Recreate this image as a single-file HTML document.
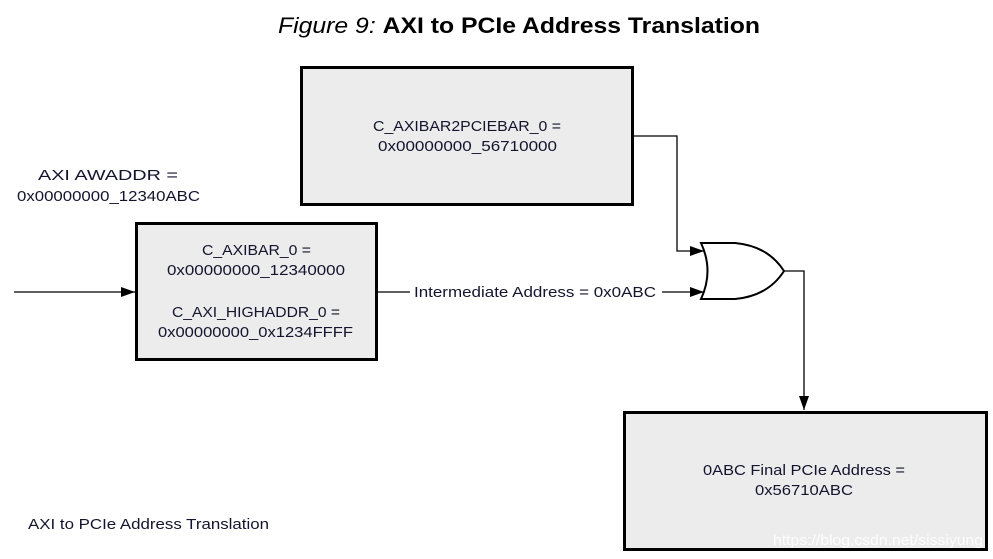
<!DOCTYPE html>
<html><head><meta charset="utf-8"><style>
html,body{margin:0;padding:0;background:#fff;width:993px;height:559px;overflow:hidden}
text{font-family:"Liberation Sans",sans-serif;fill:#14142e;font-size:15px}
</style></head><body>
<svg width="993" height="559" viewBox="0 0 993 559" xmlns="http://www.w3.org/2000/svg">
<defs><marker id="a" markerWidth="14" markerHeight="10" refX="14" refY="5" orient="auto" markerUnits="userSpaceOnUse"><path d="M0,0 L14,5 L0,10 Z" fill="#000"/></marker></defs>
<text x="278" y="33" textLength="482" lengthAdjust="spacingAndGlyphs" style="font-size:22px;fill:#000"><tspan font-style="italic">Figure 9:</tspan> <tspan font-weight="bold">AXI to PCIe Address Translation</tspan></text>
<rect x="301.5" y="67.5" width="331" height="137" fill="#ececec" stroke="#000" stroke-width="3"/>
<text x="373" y="131" textLength="188" lengthAdjust="spacingAndGlyphs">C_AXIBAR2PCIEBAR_0 =</text>
<text x="378" y="151" textLength="179" lengthAdjust="spacingAndGlyphs">0x00000000_56710000</text>
<text x="38" y="180" textLength="140" lengthAdjust="spacingAndGlyphs">AXI AWADDR =</text>
<text x="17" y="201" textLength="183" lengthAdjust="spacingAndGlyphs">0x00000000_12340ABC</text>
<rect x="136.5" y="223.5" width="240" height="136" fill="#ececec" stroke="#000" stroke-width="3"/>
<text x="202" y="255" textLength="109" lengthAdjust="spacingAndGlyphs">C_AXIBAR_0 =</text>
<text x="167" y="275" textLength="178" lengthAdjust="spacingAndGlyphs">0x00000000_12340000</text>
<text x="172" y="317" textLength="168" lengthAdjust="spacingAndGlyphs">C_AXI_HIGHADDR_0 =</text>
<text x="158" y="337" textLength="195" lengthAdjust="spacingAndGlyphs">0x00000000_0x1234FFFF</text>
<line x1="14" y1="292" x2="135" y2="292" stroke="#000" stroke-width="1.3" marker-end="url(#a)"/>
<line x1="378" y1="292" x2="410" y2="292" stroke="#000" stroke-width="1.3"/>
<text x="414" y="297" textLength="242" lengthAdjust="spacingAndGlyphs">Intermediate Address = 0x0ABC</text>
<line x1="662" y1="292" x2="704" y2="292" stroke="#000" stroke-width="1.3" marker-end="url(#a)"/>
<polyline points="633,136 677,136 677,251 704,251" fill="none" stroke="#000" stroke-width="1.3" marker-end="url(#a)"/>
<path d="M701,243 Q714,271 701,299 L735,299 Q768,296 784,271 Q768,246 735,243 Z" fill="#fff" stroke="#000" stroke-width="2"/>
<polyline points="784,271 804,271 804,410" fill="none" stroke="#000" stroke-width="1.3" marker-end="url(#a)"/>
<rect x="624.5" y="412.5" width="362" height="137" fill="#ececec" stroke="#000" stroke-width="3"/>
<text x="703" y="475" textLength="202" lengthAdjust="spacingAndGlyphs">0ABC Final PCIe Address =</text>
<text x="755" y="495" textLength="98" lengthAdjust="spacingAndGlyphs">0x56710ABC</text>
<text x="773" y="545" textLength="210" lengthAdjust="spacingAndGlyphs" style="fill:#fff;font-size:15px;opacity:0.85">https://blog.csdn.net/sissiyung</text>
<text x="28" y="529" textLength="241" lengthAdjust="spacingAndGlyphs">AXI to PCIe Address Translation</text>
</svg>
</body></html>
